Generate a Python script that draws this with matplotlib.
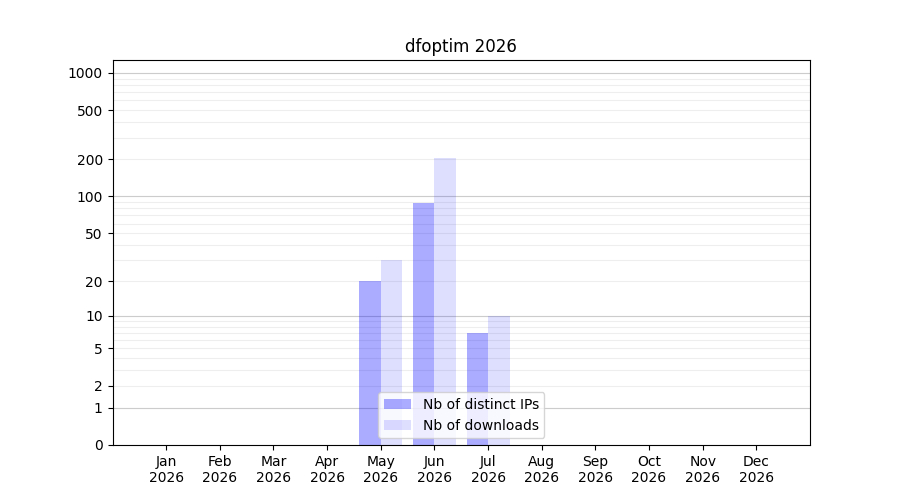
import numpy as np
import matplotlib
matplotlib.use("Agg")
import matplotlib.pyplot as plt
from matplotlib.ticker import FixedLocator, NullFormatter

months = ["Jan", "Feb", "Mar", "Apr", "May", "Jun", "Jul", "Aug", "Sep", "Oct", "Nov", "Dec"]
year = "2026"
distinct_ips = [0, 0, 0, 0, 20, 88, 7, 0, 0, 0, 0, 0]
downloads = [0, 0, 0, 0, 30, 205, 10, 0, 0, 0, 0, 0]
major_ticks = [0, 1, 2, 5, 10, 20, 50, 100, 200, 500, 1000]
decade_ticks = [1, 10, 100, 1000]
minor_ticks = [m * d for d in [1, 10, 100] for m in [3, 4, 6, 7, 8, 9]]

fig, ax = plt.subplots(figsize=(9, 5), dpi=100)

fwd = lambda y: np.log10(1 + np.maximum(y, 0))
inv = lambda y: 10 ** y - 1
ax.set_yscale('function', functions=(fwd, inv))

x = np.arange(len(months))
w = 0.4
ax.bar(x - w / 2, distinct_ips, width=w, color='blue', alpha=0.33, label='Nb of distinct IPs', zorder=2)
ax.bar(x + w / 2, downloads, width=w, color='blue', alpha=0.13, label='Nb of downloads', zorder=2)

ax.set_xticks(x)
ax.set_xticklabels([f"{m}\n{year}" for m in months])
ax.set_xlim(-1, 12)
ax.set_ylim(0, 1270)

ax.yaxis.set_major_locator(FixedLocator(major_ticks))
ax.set_yticklabels([str(t) for t in major_ticks])
ax.yaxis.set_minor_locator(FixedLocator(minor_ticks))
ax.yaxis.set_minor_formatter(NullFormatter())
ax.tick_params(axis='y', which='minor', length=0)

ax.set_axisbelow(True)
ax.grid(True, axis='y', which='both', color='#eeeeee', lw=0.8)
for t in decade_ticks:
    ax.axhline(t, color='#cccccc', lw=0.8, zorder=1)

ax.set_title(f"dfoptim {year}")
ax.legend(loc='lower center')

fig.savefig("out.png")
